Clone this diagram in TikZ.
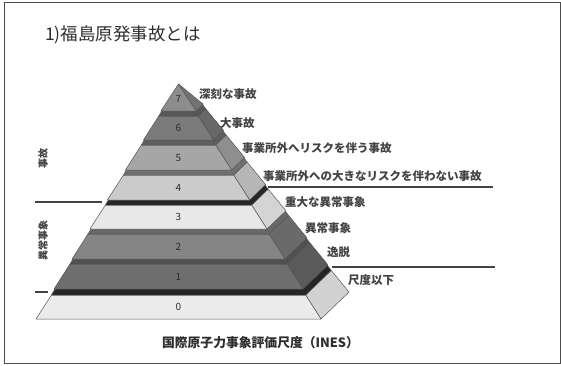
\documentclass[tikz,border=0pt]{standalone}
\usepackage{fontspec}
\newfontfamily\jp{Noto Sans CJK JP}
\definecolor{txt}{HTML}{2E2E2E}
\definecolor{edge}{HTML}{555555}
\definecolor{f0}{HTML}{EBEBEB}\definecolor{s0}{HTML}{D2D2D2}\definecolor{b0}{HTML}{262626}
\definecolor{f1}{HTML}{6E6E6E}\definecolor{s1}{HTML}{5A5A5A}\definecolor{b1}{HTML}{505050}
\definecolor{f2}{HTML}{858585}\definecolor{s2}{HTML}{6A6A6A}\definecolor{b2}{HTML}{686868}
\definecolor{f3}{HTML}{E8E8E8}\definecolor{s3}{HTML}{D4D4D4}\definecolor{b3}{HTML}{262626}
\definecolor{f4}{HTML}{CBCBCB}\definecolor{s4}{HTML}{B6B6B6}\definecolor{b4}{HTML}{707070}
\definecolor{f5}{HTML}{A6A6A6}\definecolor{s5}{HTML}{8E8E8E}\definecolor{b5}{HTML}{5E5E5E}
\definecolor{f6}{HTML}{7B7B7B}\definecolor{s6}{HTML}{686868}\definecolor{b6}{HTML}{575757}
\definecolor{f7}{HTML}{8C8C8C}\definecolor{s7}{HTML}{737373}
\tikzset{
  declare function={Lx(\y)=37+0.6*(319-\y); Rx(\y)=320-0.6*(319-\y); sv(\y)=0.15+0.85*(\y-83)/236;},
  face/.style={draw=edge,line width=0.5pt,line join=round},
  num/.style={font=\jp\fontsize{10}{12}\selectfont,text=txt,inner sep=0pt},
  lab/.style={font=\jp\bfseries\fontsize{11.5}{13}\selectfont,text=txt!90,inner sep=0pt,anchor=west},
  sidelab/.style={font=\jp\bfseries\fontsize{10}{12}\selectfont,text=txt!90,inner sep=0pt,rotate=90},
  sepline/.style={draw=txt!90,line width=1.2pt},
  frame/.style={draw=black!70,line width=1pt}
}
\newcommand\pyrlayer[7]{%
  \pgfmathsetmacro\Lb{Lx(#1)-1}%
  \pgfmathsetmacro\Rb{Rx(#1)+1}%
  \pgfmathsetmacro\Lt{Lx(#2)}%
  \pgfmathsetmacro\Rt{Rx(#2)}%
  \pgfmathsetmacro\Lu{Lx(#3)}%
  \pgfmathsetmacro\Ru{Rx(#3)}%
  \pgfmathsetmacro\sb{sv(#1)}%
  \pgfmathsetmacro\st{sv(#2)}%
  \pgfmathsetmacro\su{sv(#3)}%
  \filldraw[face,fill=s#7] (\Rb,#1) -- ({\Rb+28*\sb},{#1-27*\sb}) -- ({\Rt+28*\st},{#2-27*\st}) -- (\Rt,#2) -- cycle;
  \filldraw[face,fill=f#7] (\Lb,#1) -- (\Rb,#1) -- (\Rt,#2) -- (\Lt,#2) -- cycle;
  \filldraw[face,fill=b#7] (\Lt,#2) -- (\Rt,#2) -- ({\Rt+28*\st},{#2-27*\st}) -- ({\Ru+28*\su},{#3-27*\su}) -- (\Ru,#3) -- (\Lu,#3) -- cycle;
  \node[num] (n#7) at ({(\Lt+\Rt)/2},{(#1+#2)/2}) {#7};
}
\begin{document}
\begin{tikzpicture}[x=1pt,y=-1pt]
\useasboundingbox (0,0) rectangle (561,365);
\draw[frame] (4.5,2) rectangle (560.5,363);
\node[font=\jp\fontsize{17.5}{20}\selectfont,text=txt,anchor=west,inner sep=0pt] (title) at (45,35) {1)福島原発事故とは};
% pyramid
\pyrlayer{319}{295}{288}{}{}{}{0}
\pyrlayer{289}{264}{258}{}{}{}{1}
\pyrlayer{259}{234}{228}{}{}{}{2}
\pyrlayer{229}{205}{199}{}{}{}{3}
\pyrlayer{200}{175}{169}{}{}{}{4}
\pyrlayer{170}{145}{139}{}{}{}{5}
\pyrlayer{140}{116}{110}{}{}{}{6}
\pgfmathsetmacro\Lb{Lx(111)-1}
\pgfmathsetmacro\Rb{Rx(111)+1}
\pgfmathsetmacro\sb{sv(111)}
\filldraw[face,fill=s7] (\Rb,111) -- ({\Rb+28*\sb},{111-27*\sb}) -- (178.5,84) -- cycle;
\filldraw[face,fill=f7] (\Lb,111) -- (\Rb,111) -- (178.5,84) -- cycle;
\node[num] (n7) at (178.5,99) {7};
% level labels
\node[lab] (l7) at (199,94) {深刻な事故};
\node[lab] (l6) at (220,123) {大事故};
\node[lab] (l5) at (242,148) {事業所外へリスクを伴う事故};
\node[lab] (l4) at (263,176) {事業所外への大きなリスクを伴わない事故};
\node[lab] (l3) at (285,202) {重大な異常事象};
\node[lab] (l2) at (305,228) {異常事象};
\node[lab] (l1) at (327,252) {逸脱};
\node[lab] (l0) at (348,280) {尺度以下};
% separator lines
\draw[sepline] (268,187) -- (493,187);
\draw[sepline] (332,267) -- (495,267);
\draw[sepline] (35,202) -- (102,202);
\draw[sepline] (35,292) -- (48,292);
% side category labels
\node[sidelab] (cA) at (43,158) {事故};
\node[sidelab] (cB) at (43,240) {異常事象};
% caption
\node[font=\jp\bfseries\fontsize{12.8}{15}\selectfont,text=txt,inner sep=0pt] (cap) at (260.5,343) {国際原子力事象評価尺度（INES）};
\end{tikzpicture}
\end{document}
